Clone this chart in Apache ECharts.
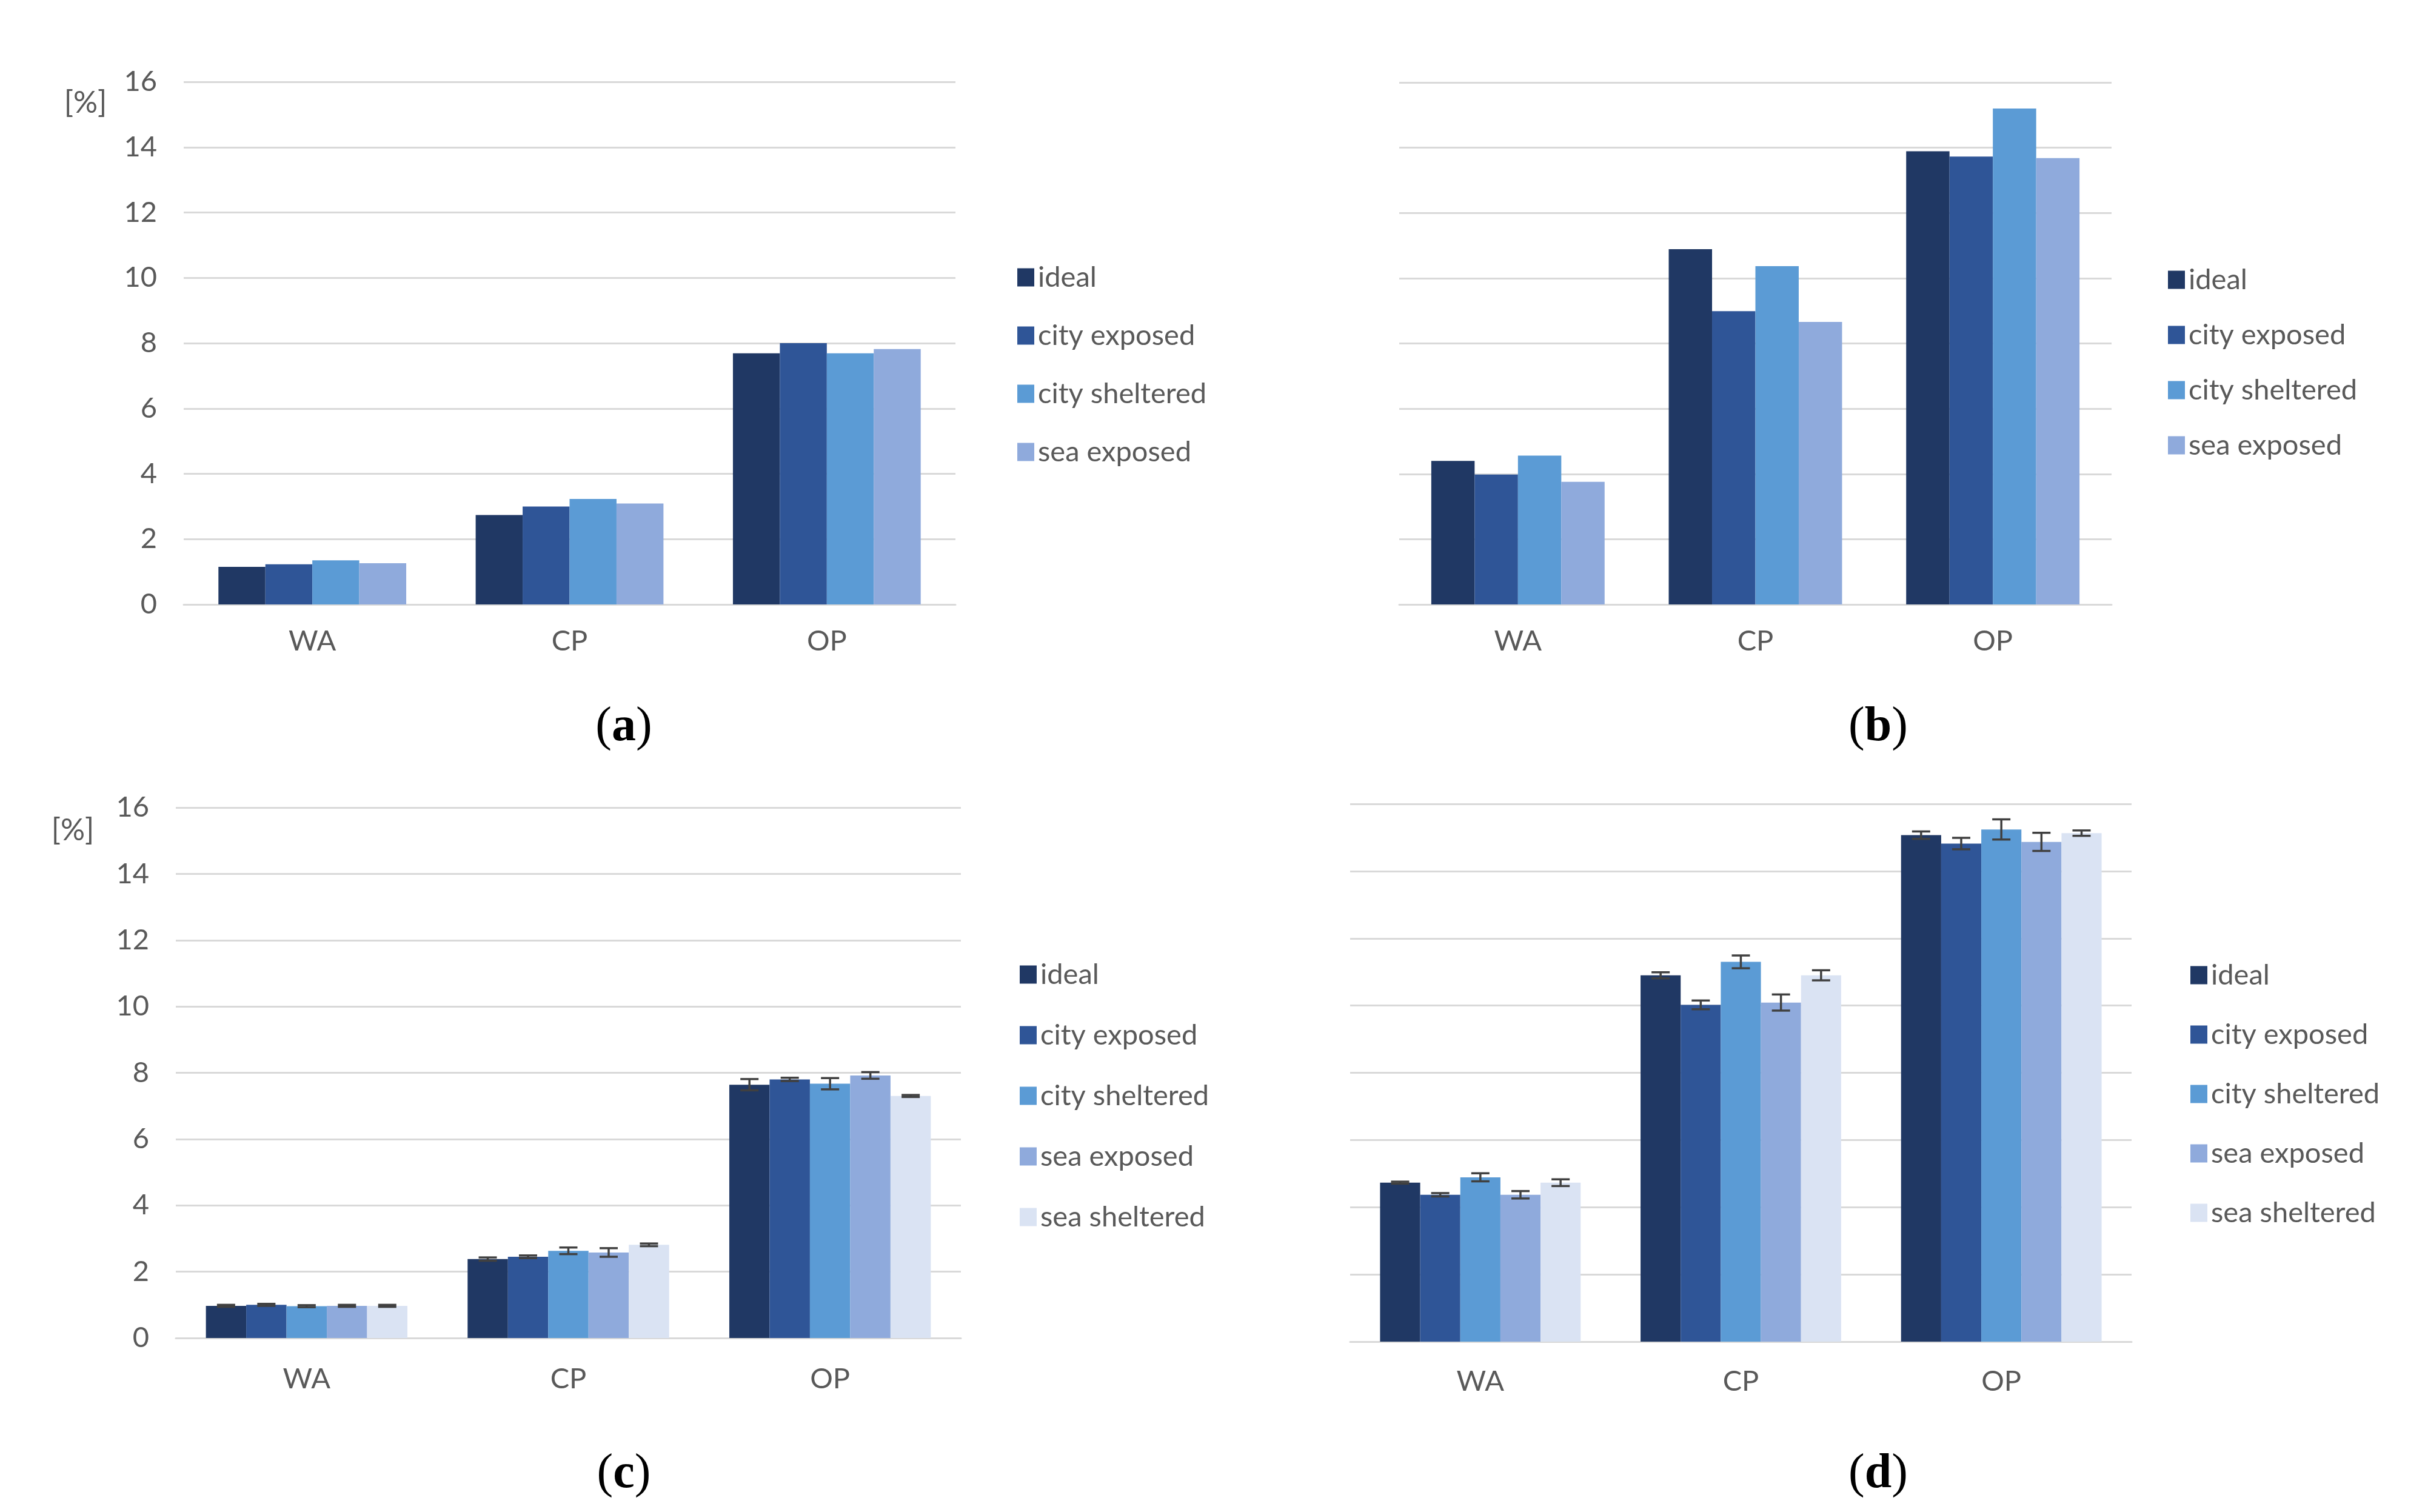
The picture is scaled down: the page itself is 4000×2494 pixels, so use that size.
<!DOCTYPE html>
<html><head><meta charset="utf-8">
<script src="https://cdn.jsdelivr.net/npm/echarts@6/dist/echarts.min.js"></script>
<style>html,body{margin:0;padding:0;background:#fff}#c{width:4000px;height:2494px}</style>
</head><body><div id="c"></div>
<script>
const categories = ['WA', 'CP', 'OP'];
const seriesNames4 = ['ideal', 'city exposed', 'city sheltered', 'sea exposed'];
const seriesNames5 = ['ideal', 'city exposed', 'city sheltered', 'sea exposed', 'sea sheltered'];
const yTicks = [0, 2, 4, 6, 8, 10, 12, 14, 16];

// panel (a)
const aIdeal = [1.15, 2.74, 7.69];
const aCityExposed = [1.23, 3.0, 8.0];
const aCitySheltered = [1.35, 3.23, 7.69];
const aSeaExposed = [1.26, 3.09, 7.82];
// panel (b)
const bIdeal = [4.40, 10.89, 13.89];
const bCityExposed = [3.98, 8.99, 13.73];
const bCitySheltered = [4.56, 10.37, 15.2];
const bSeaExposed = [3.76, 8.66, 13.68];
// panel (c)
const cIdeal = [0.97, 2.38, 7.64];
const cCityExposed = [1.0, 2.45, 7.80];
const cCitySheltered = [0.96, 2.63, 7.67];
const cSeaExposed = [0.97, 2.58, 7.92];
const cSeaSheltered = [0.97, 2.81, 7.30];
const cIdealErr = [0.03, 0.05, 0.17];
const cCityExposedErr = [0.03, 0.04, 0.05];
const cCityShelteredErr = [0.03, 0.10, 0.17];
const cSeaExposedErr = [0.03, 0.13, 0.10];
const cSeaShelteredErr = [0.03, 0.04, 0.03];
// panel (d)
const dIdeal = [4.73, 10.90, 15.07];
const dCityExposed = [4.37, 10.02, 14.82];
const dCitySheltered = [4.89, 11.30, 15.24];
const dSeaExposed = [4.37, 10.09, 14.87];
const dSeaSheltered = [4.73, 10.90, 15.13];
const dIdealErr = [0.03, 0.09, 0.11];
const dCityExposedErr = [0.05, 0.13, 0.17];
const dCityShelteredErr = [0.12, 0.19, 0.30];
const dSeaExposedErr = [0.11, 0.24, 0.27];
const dSeaShelteredErr = [0.10, 0.15, 0.08];

const colors = ['#203864', '#2F5597', '#5B9BD5', '#8FAADC', '#DAE3F3'];
const textColor = '#595959';
const gridColor = '#D9D9D9';
const FONT = 'Lato';

const panels = [
  {grid:{left:303, top:135, width:1273, height:862}, showY:true, gap:0.27, xMargin:37,
   values:[aIdeal,aCityExposed,aCitySheltered,aSeaExposed], errs:null, names:seriesNames4,
   legend:{left:1673, top:429, gap:49}, caption:{x:1029,y:1200,t:'a'}, unit:{x:141,y:170}},
  {grid:{left:2308, top:136, width:1175, height:861}, showY:false, gap:0.27, xMargin:37,
   values:[bIdeal,bCityExposed,bCitySheltered,bSeaExposed], errs:null, names:seriesNames4,
   legend:{left:3571, top:433, gap:44}, caption:{x:3098,y:1200,t:'b'}},
  {grid:{left:290, top:1332, width:1295, height:875}, showY:true, gap:0.23, xMargin:44,
   values:[cIdeal,cCityExposed,cCitySheltered,cSeaExposed,cSeaSheltered],
   errs:[cIdealErr,cCityExposedErr,cCityShelteredErr,cSeaExposedErr,cSeaShelteredErr], names:seriesNames5,
   legend:{left:1677, top:1579, gap:53}, caption:{x:1029,y:2432,t:'c'}, unit:{x:120,y:1370}},
  {grid:{left:2227, top:1326, width:1289, height:887}, showY:false, gap:0.23, xMargin:42,
   values:[dIdeal,dCityExposed,dCitySheltered,dSeaExposed,dSeaSheltered],
   errs:[dIdealErr,dCityExposedErr,dCityShelteredErr,dSeaExposedErr,dSeaShelteredErr], names:seriesNames5,
   legend:{left:3608, top:1580, gap:51}, caption:{x:3098,y:2432,t:'d'}}
];

const option = {animation:false, backgroundColor:'#fff', textStyle:{fontFamily:FONT},
  grid:[], xAxis:[], yAxis:[], series:[], legend:[], graphic:[]};

panels.forEach((p, pi) => {
  option.grid.push(Object.assign({containLabel:false}, p.grid));
  option.xAxis.push({type:'category', gridIndex:pi, data:categories,
    axisLine:{show:true, lineStyle:{color:gridColor, width:3}}, axisTick:{show:false},
    axisLabel:{color:textColor, fontSize:47, fontFamily:FONT, margin:p.xMargin}});
  option.yAxis.push({type:'value', gridIndex:pi, min:yTicks[0], max:yTicks[yTicks.length-1], interval:2,
    axisLine:{show:false}, axisTick:{show:false},
    axisLabel:{show:p.showY, color:textColor, fontSize:47, fontFamily:FONT, margin:44},
    splitLine:{show:true, lineStyle:{color:gridColor, width:3}}});
  const n = p.values.length;
  p.values.forEach((vals, si) => {
    option.series.push({type:'bar', name:p.names[si], xAxisIndex:pi, yAxisIndex:pi, data:vals,
      barGap:'0%', barCategoryGap:(p.gap*100)+'%', itemStyle:{color:colors[si]}, z:2});
  });
  if (p.errs) {
    p.errs.forEach((errs, si) => {
      const data = categories.map((c, ci) => [ci, p.values[si][ci], errs[ci]]);
      option.series.push({type:'custom', name:'err'+pi+'_'+si, xAxisIndex:pi, yAxisIndex:pi, z:5,
        data:data, silent:true,
        renderItem:(params, api) => {
          const ci = api.value(0), v = api.value(1), e = api.value(2);
          const band = api.size([1, 0])[0];
          const groupW = band * (1 - p.gap);
          const bw = groupW / n;
          const cx = api.coord([ci, v])[0] - groupW/2 + bw*(si+0.5);
          const yHi = api.coord([ci, v + e])[1];
          const yLo = api.coord([ci, v - e])[1];
          const cap = 15;
          const st = {stroke:'#404040', lineWidth:3.5};
          return {type:'group', children:[
            {type:'line', shape:{x1:cx, y1:yHi, x2:cx, y2:yLo}, style:st},
            {type:'line', shape:{x1:cx-cap, y1:yHi, x2:cx+cap, y2:yHi}, style:st},
            {type:'line', shape:{x1:cx-cap, y1:yLo, x2:cx+cap, y2:yLo}, style:st}
          ]};
        }});
    });
  }
  option.legend.push({orient:'vertical', left:p.legend.left, top:p.legend.top, data:p.names,
    itemWidth:28, itemHeight:30, itemGap:p.legend.gap, icon:'rect', selectedMode:false,
    textStyle:{color:textColor, fontSize:47, fontFamily:FONT, padding:[0,0,0,1]}});
  option.graphic.push({type:'text', style:{
    text:'({b|'+p.caption.t+'})', x:p.caption.x, y:p.caption.y, textAlign:'center', textVerticalAlign:'middle',
    font:'80px "Liberation Serif"', fill:'#000',
    rich:{b:{fontFamily:'Liberation Serif', fontWeight:'bold', fontSize:80, fill:'#000'}}}});
  if (p.unit) {
    option.graphic.push({type:'text', style:{text:'[%]', x:p.unit.x, y:p.unit.y, textAlign:'center',
      textVerticalAlign:'middle', font:'50px Lato', fill:textColor}});
  }
});

const chart = echarts.init(document.getElementById('c'), null, {renderer:'canvas'});
chart.setOption(option);
</script></body></html>
